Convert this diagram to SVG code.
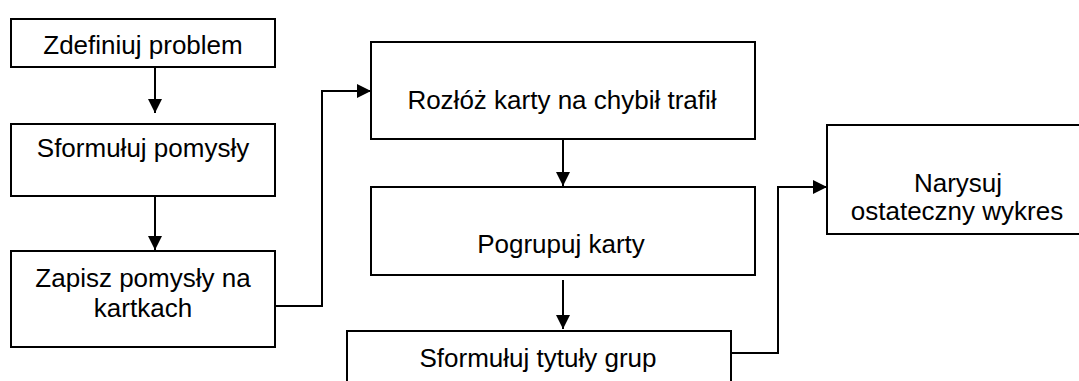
<svg xmlns="http://www.w3.org/2000/svg" width="1079" height="381" viewBox="0 0 1079 381">
  <style>
    .box { fill: #ffffff; stroke: #000000; stroke-width: 2; }
    .lbl { font-family: "Liberation Sans", Arial, sans-serif; font-size: 26px; fill: #000000; text-anchor: middle; }
    .link { fill: none; stroke: #000000; stroke-width: 2; }
  </style>
  <defs>
    <marker id="arrow" viewBox="0 0 14 14" refX="14" refY="7" markerWidth="14" markerHeight="14" markerUnits="userSpaceOnUse" orient="auto">
      <path d="M0,0 L14,7 L0,14 Z" fill="#000000"/>
    </marker>
  </defs>
  <rect width="1079" height="381" fill="#ffffff"/>

  <g id="node-zdefiniuj">
    <rect class="box" x="11" y="19" width="264" height="48"/>
    <text class="lbl" x="143" y="54">Zdefiniuj problem</text>
  </g>
  <g id="node-sformuluj-pomysly">
    <rect class="box" x="11" y="124" width="264" height="72"/>
    <text class="lbl" x="143" y="157">Sformułuj pomysły</text>
  </g>
  <g id="node-zapisz">
    <rect class="box" x="11" y="251" width="264" height="96"/>
    <text class="lbl" x="143" y="287">Zapisz pomysły na</text>
    <text class="lbl" x="143" y="317">kartkach</text>
  </g>
  <g id="node-rozloz">
    <rect class="box" x="371" y="42" width="384" height="97"/>
    <text class="lbl" x="562" y="109">Rozłóż karty na chybił trafił</text>
  </g>
  <g id="node-pogrupuj">
    <rect class="box" x="371" y="187" width="384" height="88"/>
    <text class="lbl" x="561" y="253">Pogrupuj karty</text>
  </g>
  <g id="node-tytuly">
    <rect class="box" x="347" y="331" width="384" height="60"/>
    <text class="lbl" x="538" y="367">Sformułuj tytuły grup</text>
  </g>
  <g id="node-narysuj">
    <rect class="box" x="827" y="125" width="262" height="109"/>
    <text class="lbl" x="958" y="192">Narysuj</text>
    <text class="lbl" x="957" y="220">ostateczny wykres</text>
  </g>

  <g id="connectors">
    <path class="link" d="M155,67 V113" marker-end="url(#arrow)"/>
    <path class="link" d="M155,196 V250" marker-end="url(#arrow)"/>
    <path class="link" d="M275,306 H322 V91 H371" marker-end="url(#arrow)"/>
    <path class="link" d="M563,139 V186" marker-end="url(#arrow)"/>
    <path class="link" d="M563,280 V329" marker-end="url(#arrow)"/>
    <path class="link" d="M731,353 H778 V187 H827" marker-end="url(#arrow)"/>
  </g>
</svg>
